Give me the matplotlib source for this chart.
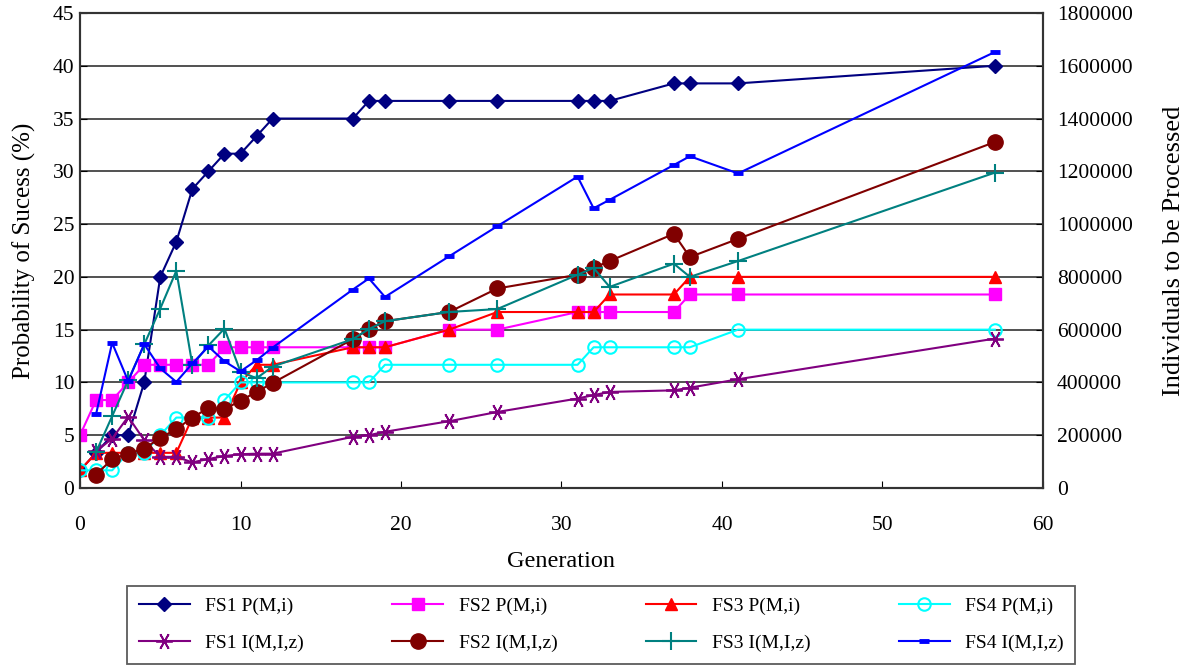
import matplotlib
matplotlib.use("Agg")
import matplotlib.pyplot as plt
from matplotlib.ticker import FuncFormatter

plt.rcParams['font.family'] = ['Liberation Serif', 'DejaVu Serif']

# generations (x axis)
gen_p = [0, 1, 2, 3, 4, 5, 6, 7, 8, 9, 10, 11, 12, 17, 18, 19, 23, 26, 31, 32, 33, 37, 38, 41, 57]
gen_i = gen_p[1:]

# probability of success (%), left axis
fs1_p = [1.67, 3.33, 5, 5, 10, 20, 23.33, 28.33, 30, 31.67, 31.67, 33.33, 35, 35, 36.67, 36.67,
         36.67, 36.67, 36.67, 36.67, 36.67, 38.33, 38.33, 38.33, 40]
fs2_p = [5, 8.33, 8.33, 10, 11.67, 11.67, 11.67, 11.67, 11.67, 13.33, 13.33, 13.33, 13.33, 13.33,
         13.33, 13.33, 15, 15, 16.67, 16.67, 16.67, 16.67, 18.33, 18.33, 18.33]
fs3_p = [1.67, 3.33, 3.33, 3.33, 3.33, 3.33, 3.33, 6.67, 6.67, 6.67, 10, 11.67, 11.67, 13.33,
         13.33, 13.33, 15, 16.67, 16.67, 16.67, 18.33, 18.33, 20, 20, 20]
fs4_p = [1.67, 1.67, 1.67, 3.33, 3.33, 5, 6.67, 6.67, 6.67, 8.33, 10, 10, 10, 10, 10, 11.67,
         11.67, 11.67, 11.67, 13.33, 13.33, 13.33, 13.33, 15, 15]

# individuals to be processed, right axis
fs1_i = [139000, 187000, 270000, 181000, 118000, 118000, 97000, 110000, 121000, 128000, 130000,
         130000, 194000, 200000, 213000, 253000, 288000, 339000, 352000, 364000, 370000, 380000,
         412000, 566000]
fs2_i = [51000, 109000, 130000, 149000, 190000, 223000, 267000, 303000, 298000, 331000, 364000,
         398000, 564000, 602000, 632000, 667000, 756000, 808000, 834000, 860000, 963000, 875000,
         944000, 1311000]
fs3_i = [136000, 272000, 408000, 544000, 680000, 823000, 466000, 540000, 604000, 440000, 416000,
         460000, 564000, 602000, 632000, 667000, 678000, 808000, 834000, 762000, 850000, 800000,
         860000, 1195000]
fs4_i = [280000, 550000, 405000, 545000, 453000, 402000, 472000, 536000, 480000, 442000, 484000,
         532000, 752000, 794000, 724000, 878000, 992000, 1180000, 1060000, 1092000, 1224000,
         1257000, 1192000, 1652000]

fig = plt.figure(figsize=(11.91, 6.66), dpi=100)
ax = fig.add_axes([0.0672, 0.2673, 0.8085, 0.7132])
ax2 = ax.twinx()

lw = 1.5
h_p1, = ax.plot(gen_p, fs1_p, color='#000080', lw=lw, marker='D', ms=7, label='FS1 P(M,i)')
h_p2, = ax.plot(gen_p, fs2_p, color='#FF00FF', lw=lw, marker='s', ms=9, label='FS2 P(M,i)')
h_p3, = ax.plot(gen_p, fs3_p, color='#FF0000', lw=lw, marker='^', ms=9, label='FS3 P(M,i)')
h_p4, = ax.plot(gen_p, fs4_p, color='#00FFFF', lw=lw, marker='o', ms=9, mfc='none', mew=1.5,
                label='FS4 P(M,i)')

h_i1, = ax2.plot(gen_i, fs1_i, color='#800080', lw=lw, marker=(6, 2, 90), ms=12, mew=1.3,
                 label='FS1 I(M,I,z)')
h_i2, = ax2.plot(gen_i, fs2_i, color='#800000', lw=lw, marker='o', ms=11, label='FS2 I(M,I,z)')
h_i3, = ax2.plot(gen_i, fs3_i, color='#008080', lw=lw, marker='+', ms=13, mew=1.5,
                 label='FS3 I(M,I,z)')
h_i4, = ax2.plot(gen_i, fs4_i, color='#0000FF', lw=lw, marker='_', ms=7, mew=3.5,
                 label='FS4 I(M,I,z)')

ax.set_xlim(0, 60)
ax.set_ylim(0, 45)
ax.set_xticks(range(0, 61, 10))
ax.set_yticks(range(0, 46, 5))
ax2.set_ylim(0, 1800000)
ax2.set_yticks(range(0, 1800001, 200000))
ax2.yaxis.set_major_formatter(FuncFormatter(lambda v, p: f"{int(v)}"))

ax.yaxis.grid(True, color='#222222', lw=1.1)
ax.set_axisbelow(True)

for a in (ax, ax2):
    a.tick_params(direction='in', labelsize=15.5, length=5)
    for s in a.spines.values():
        s.set_color('#333333')
        s.set_linewidth(1.5)
ax.tick_params(axis='x', pad=20)
ax.tick_params(axis='y', pad=4)
ax2.tick_params(axis='y', pad=10)

ax.set_xlabel('Generation', fontsize=17.5, labelpad=12)
ax.set_ylabel('Probability of Sucess (%)', fontsize=18, labelpad=12)
ax2.set_ylabel('Individuals to be Processed', fontsize=19, labelpad=22)

handles = [h_p1, h_i1, h_p2, h_i2, h_p3, h_i3, h_p4, h_i4]
leg = fig.legend(handles=handles, labels=[h.get_label() for h in handles], ncol=4,
                 loc='lower left', bbox_to_anchor=(0.107, 0.003, 0.796, 0.12), mode='expand',
                 fontsize=14, frameon=True, fancybox=False, edgecolor='#333333',
                 handlelength=2.6, borderaxespad=0, labelspacing=1.0, borderpad=0.6)
leg.get_frame().set_linewidth(1.3)

fig.savefig('out.png', dpi=100)
